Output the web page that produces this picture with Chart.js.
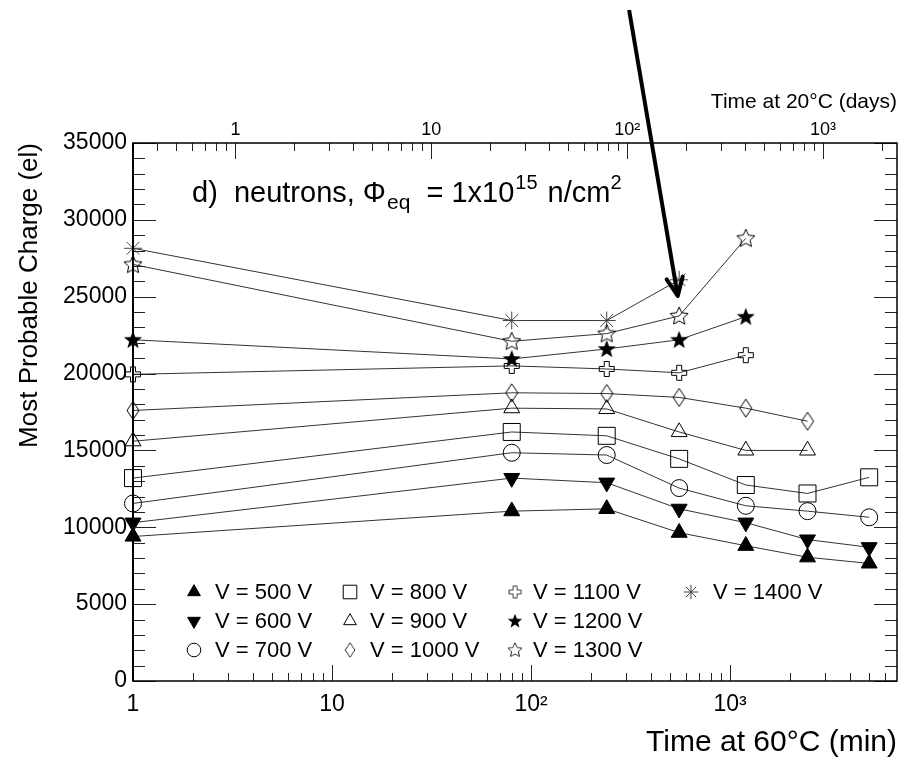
<!DOCTYPE html>
<html>
<head>
<meta charset="utf-8">
<script src="https://cdn.jsdelivr.net/npm/chart.js@4/dist/chart.umd.min.js"></script>
<style>
  html, body { margin: 0; padding: 0; background: #fff; }
</style>
</head>
<body>
<canvas id="chart" width="910" height="761"></canvas>
<script>
// annealing time at 60C (min)
const annealTimes = [1, 80, 240, 555, 1200, 2450, 5000];

// most probable charge (el) per bias voltage
const q500 = [9400, 11050, 11200, 9650, 8800, 8050, 7650];
const q600 = [10300, 13200, 12900, 11200, 10300, 9200, 8700];
const q700 = [11550, 14850, 14700, 12550, 11400, 11050, 10650];
const q800 = [13200, 16200, 15950, 14450, 12750, 12200, 13250];
const q900 = [15600, 17750, 17700, 16200, 15000, 15000];
const q1000 = [17600, 18750, 18700, 18450, 17750, 16900];
const q1100 = [19950, 20500, 20300, 20050, 21200];
const q1200 = [22200, 20950, 21600, 22200, 23700];
const q1300 = [27100, 22100, 22600, 23750, 28800];
const q1400 = [28150, 23450, 23450, 26100];

const seriesLabels = ['V = 500 V', 'V = 600 V', 'V = 700 V', 'V = 800 V', 'V = 900 V',
  'V = 1000 V', 'V = 1100 V', 'V = 1200 V', 'V = 1300 V', 'V = 1400 V'];

// arrow annotation (data coords: min, el)
const arrowFrom = [311, 43650];
const arrowTo = [546, 25050];

const FONT = '"Liberation Sans", Arial, Helvetica, sans-serif';
Chart.defaults.font.family = FONT;
Chart.defaults.color = '#000';

// custom ROOT-like markers
function markerCanvas(w, h, drawFn) {
  const c = document.createElement('canvas');
  c.width = w; c.height = h;
  const g = c.getContext('2d');
  g.strokeStyle = '#000';
  g.fillStyle = '#000';
  g.lineWidth = 1;
  drawFn(g);
  return c;
}
function starPath(g, cx, cy, ro, ri) {
  g.beginPath();
  for (let i = 0; i < 10; i++) {
    const r = i % 2 ? ri : ro;
    const a = -Math.PI / 2 + i * Math.PI / 5;
    const px = cx + r * Math.cos(a), py = cy + r * Math.sin(a);
    if (i) g.lineTo(px, py); else g.moveTo(px, py);
  }
  g.closePath();
}
const diamondMark = markerCanvas(14, 20, g => {
  g.beginPath();
  g.moveTo(7, 1); g.lineTo(13, 10); g.lineTo(7, 19); g.lineTo(1, 10);
  g.closePath(); g.stroke();
});
const openCrossMark = markerCanvas(18, 18, g => {
  const a = 1.5, b = 6.5, c = 11.5, d = 16.5;
  g.beginPath();
  g.moveTo(b, a); g.lineTo(c, a); g.lineTo(c, b); g.lineTo(d, b); g.lineTo(d, c); g.lineTo(c, c);
  g.lineTo(c, d); g.lineTo(b, d); g.lineTo(b, c); g.lineTo(a, c); g.lineTo(a, b); g.lineTo(b, b);
  g.closePath(); g.stroke();
});
const filledStarMark = markerCanvas(20, 20, g => { starPath(g, 10, 10.5, 9.5, 4); g.fill(); });
const openStarMark = markerCanvas(20, 20, g => { starPath(g, 10, 10.5, 9.5, 4.5); g.stroke(); });

const NONE = 'rgba(0,0,0,0)';
const markerStyles = [
  { pointStyle: 'triangle', pointRadius: 9.2, pointRotation: 0, pointBackgroundColor: '#000' },
  { pointStyle: 'triangle', pointRadius: 9.2, pointRotation: 180, pointBackgroundColor: '#000' },
  { pointStyle: 'circle', pointRadius: 8.5, pointRotation: 0, pointBackgroundColor: NONE },
  { pointStyle: 'rect', pointRadius: 12, pointRotation: 0, pointBackgroundColor: NONE },
  { pointStyle: 'triangle', pointRadius: 9.2, pointRotation: 0, pointBackgroundColor: NONE },
  { pointStyle: diamondMark, pointRadius: 9, pointRotation: 0, pointBackgroundColor: NONE },
  { pointStyle: openCrossMark, pointRadius: 9, pointRotation: 0, pointBackgroundColor: NONE },
  { pointStyle: filledStarMark, pointRadius: 9, pointRotation: 0, pointBackgroundColor: '#000' },
  { pointStyle: openStarMark, pointRadius: 9, pointRotation: 0, pointBackgroundColor: NONE },
  { pointStyle: 'star', pointRadius: 9, pointRotation: 0, pointBackgroundColor: NONE }
];
const seriesValues = [q500, q600, q700, q800, q900, q1000, q1100, q1200, q1300, q1400];

const datasets = seriesValues.map((vals, i) => Object.assign({
  label: seriesLabels[i],
  data: vals.map((v, j) => ({ x: annealTimes[j], y: v })),
  borderColor: '#333',
  borderWidth: 1,
  pointBorderColor: i === 9 ? '#444' : '#000',
  pointBorderWidth: 1,
  tension: 0,
  clip: false,
  xAxisID: 'x',
  yAxisID: 'y'
}, markerStyles[i]));

const supDigits = ['\u2070', '\u00b9', '\u00b2', '\u00b3', '\u2074'];
function decadeLabel(v) {
  const e = Math.log10(v);
  const k = Math.round(e);
  if (Math.abs(e - k) > 1e-6 || k < 0) return '';
  if (k === 0) return '1';
  if (k === 1) return '10';
  return '10' + supDigits[k];
}

const X_MIN = 1, X_MAX = 6900;       // min at 60C
const D_MIN = 0.345, D_MAX = 2385;   // days at 20C

// frame and ROOT style tick marks
const framePlugin = {
  id: 'frame',
  afterDatasetsDraw(chart) {
    const { ctx, chartArea: a, scales } = chart;
    ctx.save();
    ctx.strokeStyle = '#222';
    ctx.lineWidth = 1;
    ctx.beginPath();
    for (let v = 0; v <= 35000; v += 1000) {
      const y = Math.round(scales.y.getPixelForValue(v)) + 0.5;
      const len = v % 5000 === 0 ? 23 : 12;
      ctx.moveTo(a.left, y); ctx.lineTo(a.left + len, y);
      ctx.moveTo(a.right, y); ctx.lineTo(a.right - len, y);
    }
    for (let k = 0; k <= 3; k++) {
      for (let m = 1; m <= 9; m++) {
        const v = m * Math.pow(10, k);
        if (v < X_MIN || v > X_MAX) continue;
        const x = Math.round(scales.x.getPixelForValue(v)) + 0.5;
        ctx.moveTo(x, a.bottom); ctx.lineTo(x, a.bottom - (m === 1 ? 16 : 8));
      }
    }
    for (let k = -1; k <= 3; k++) {
      for (let m = 1; m <= 9; m++) {
        const v = m * Math.pow(10, k);
        if (v < D_MIN || v > D_MAX) continue;
        const x = Math.round(scales.x2.getPixelForValue(v)) + 0.5;
        ctx.moveTo(x, a.top); ctx.lineTo(x, a.top + (m === 1 ? 16 : 8));
      }
    }
    ctx.stroke();
    ctx.strokeStyle = '#000';
    ctx.lineWidth = 1.5;
    ctx.strokeRect(a.left, a.top, a.right - a.left, a.bottom - a.top);
    ctx.lineWidth = 2;
    ctx.beginPath();
    ctx.moveTo(a.left, a.top); ctx.lineTo(a.left, a.bottom);
    ctx.stroke();
    ctx.restore();
  }
};

// legend in 4 columns x 3 rows, column-wise
const legendMarkX = [194, 350, 515, 691];
const legendTextX = [215, 370, 533, 713];
const legendRowY = [592, 621, 650];
const legendPlugin = {
  id: 'rootLegend',
  afterDatasetsDraw(chart) {
    const ctx = chart.ctx;
    ctx.save();
    ctx.font = '22px ' + FONT;
    ctx.textBaseline = 'middle';
    ctx.textAlign = 'left';
    chart.data.datasets.forEach((ds, i) => {
      const col = Math.floor(i / 3), row = i % 3;
      const mx = legendMarkX[col], my = legendRowY[row];
      const s = 0.8;
      if (typeof ds.pointStyle === 'string') {
        ctx.fillStyle = ds.pointBackgroundColor;
        ctx.strokeStyle = ds.pointBorderColor;
        ctx.lineWidth = 1;
        Chart.helpers.drawPoint(ctx, {
          pointStyle: ds.pointStyle, rotation: ds.pointRotation,
          radius: ds.pointRadius * s, borderWidth: 1
        }, mx, my);
      } else {
        const w = ds.pointStyle.width * s, h = ds.pointStyle.height * s;
        ctx.drawImage(ds.pointStyle, mx - w / 2, my - h / 2, w, h);
      }
      ctx.fillStyle = '#000';
      ctx.fillText(ds.label, legendTextX[col], my + 1);
    });
    ctx.restore();
  }
};

// plot label and arrow
const notePlugin = {
  id: 'notes',
  afterDraw(chart) {
    const { ctx, scales } = chart;
    ctx.save();
    ctx.fillStyle = '#000';
    ctx.textBaseline = 'alphabetic';
    ctx.textAlign = 'left';
    const parts = [
      ['d)  neutrons, ', 29, 0, 0],
      ['\u03a6', 29, 0, 1],
      ['eq', 21, 7, 8],
      [' = 1x10', 29, 0, 1],
      ['15', 20, -13, 2],
      [' n/cm', 29, 0, 0],
      ['2', 20, -13, 0]
    ];
    let x = 192;
    const base = 202;
    parts.forEach(([t, size, dy, gap]) => {
      ctx.font = size + 'px ' + FONT;
      ctx.fillText(t, x, base + dy);
      x += ctx.measureText(t).width + gap;
    });

    const x0 = scales.x.getPixelForValue(arrowFrom[0]), y0 = scales.y.getPixelForValue(arrowFrom[1]);
    const x1 = scales.x.getPixelForValue(arrowTo[0]), y1 = scales.y.getPixelForValue(arrowTo[1]);
    const ang = Math.atan2(y0 - y1, x0 - x1);
    ctx.strokeStyle = '#000';
    ctx.lineWidth = 4;
    ctx.lineCap = 'butt';
    ctx.beginPath();
    ctx.moveTo(x0, y0); ctx.lineTo(x1, y1);
    ctx.stroke();
    ctx.lineCap = 'round';
    ctx.beginPath();
    [-0.42, 0.42].forEach(d => {
      ctx.moveTo(x1, y1);
      ctx.lineTo(x1 + 20 * Math.cos(ang + d), y1 + 20 * Math.sin(ang + d));
    });
    ctx.stroke();
    ctx.restore();
  }
};

new Chart(document.getElementById('chart').getContext('2d'), {
  type: 'line',
  data: { datasets },
  options: {
    responsive: false,
    animation: false,
    devicePixelRatio: 1,
    events: [],
    layout: { padding: { left: 0, right: 4, top: 0, bottom: 0 } },
    plugins: { legend: { display: false }, tooltip: { enabled: false } },
    scales: {
      x: {
        type: 'logarithmic', position: 'bottom', min: X_MIN, max: X_MAX,
        grid: { display: false, drawTicks: false }, border: { display: false },
        ticks: { autoSkip: false, maxRotation: 0, padding: 10, font: { size: 23 }, callback: decadeLabel },
        title: { display: true, text: 'Time at 60\u00b0C (min)', align: 'end', font: { size: 30 }, padding: { top: 0, bottom: 0 } },
        afterFit: s => { s.height = 80; }
      },
      x2: {
        type: 'logarithmic', position: 'top', min: D_MIN, max: D_MAX, display: true,
        grid: { display: false, drawTicks: false }, border: { display: false },
        ticks: { autoSkip: false, maxRotation: 0, padding: 2, font: { size: 18 }, callback: decadeLabel },
        title: { display: true, text: 'Time at 20\u00b0C (days)', align: 'end', font: { size: 21 }, padding: { top: 90, bottom: 0 } },
        afterFit: s => { s.height = 143; }
      },
      y: {
        position: 'left', min: 0, max: 35000,
        grid: { display: false, drawTicks: false }, border: { display: false },
        ticks: { stepSize: 5000, padding: 6, font: { size: 23 }, callback: v => String(v) },
        title: { display: true, text: 'Most Probable Charge (el)', align: 'end', font: { size: 26 }, padding: { top: 14, bottom: 0 } },
        afterFit: s => { s.width = 133; }
      }
    }
  },
  plugins: [framePlugin, legendPlugin, notePlugin]
});
</script>
</body>
</html>
